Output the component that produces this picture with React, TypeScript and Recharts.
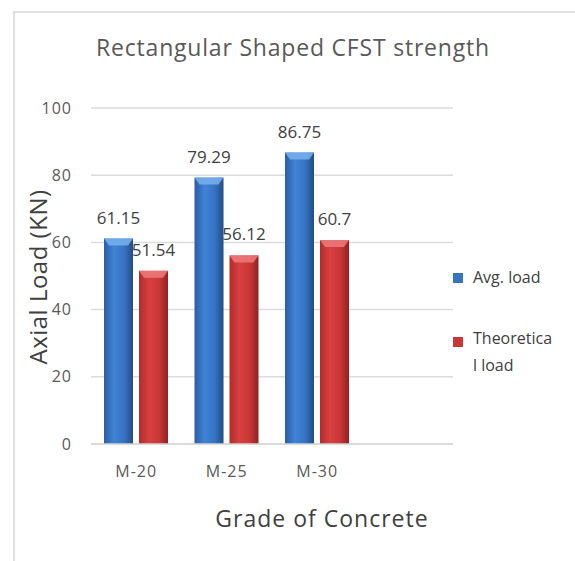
import React from 'react'
import { BarChart, Bar, XAxis, YAxis, CartesianGrid, LabelList } from 'recharts'

const grades = ['M-20', 'M-25', 'M-30', '']
const avgLoad = [61.15, 79.29, 86.75, null]
const theoreticalLoad = [51.54, 56.12, 60.7, null]
const yTicks = [0, 20, 40, 60, 80, 100]

const data = grades.map((g, i) => ({ grade: g, avg: avgLoad[i], theo: theoreticalLoad[i] }))

const FONT = '"Open Sans", "Noto Sans", sans-serif'

const makeShape = (id: string, cap: string) => (props: any) => {
  const { x, y, width, height } = props
  if (!height || height <= 0) return null
  const c = 7
  return (
    <g>
      <rect x={x} y={y} width={width} height={height} fill={`url(#${id})`} />
      <path
        d={`M${x},${y} L${x + width},${y} L${x + width - 5},${y + c} L${x + 5},${y + c} Z`}
        fill={cap}
        opacity={0.85}
      />
    </g>
  )
}

const BlueBar = makeShape('gBlue', '#7ab2ee')
const RedBar = makeShape('gRed', '#ee7b7b')

const fmt = (v: any) => (v == null ? '' : String(v))

export default function App() {
  return (
    <div style={{ position: 'absolute', left: 0, top: 0, width: 575, height: 561, background: '#fff', overflow: 'hidden', fontFamily: FONT }}>
      <div style={{ position: 'absolute', left: 13, top: 11, width: 700, height: 700, borderLeft: '2px solid #e0e0e0', borderTop: '2px solid #e0e0e0' }} />
      <div style={{ position: 'absolute', left: 0, top: 31, width: 586, textAlign: 'center', fontSize: 23, letterSpacing: 0.8, lineHeight: 'normal', color: '#595959', whiteSpace: 'nowrap' }}>
        Rectangular Shaped CFST strength
      </div>
      <div style={{ position: 'absolute', left: 0, top: 0 }}>
        <BarChart
          width={575}
          height={561}
          data={data}
          margin={{ top: 108, right: 122, bottom: 87, left: 0 }}
          barSize={29}
          barGap={6}
        >
          <defs>
            <linearGradient id="gBlue" x1="0" y1="0" x2="1" y2="0">
              <stop offset="0%" stopColor="#2a5ea6" />
              <stop offset="35%" stopColor="#4083d6" />
              <stop offset="70%" stopColor="#3673c2" />
              <stop offset="100%" stopColor="#234c86" />
            </linearGradient>
            <linearGradient id="gRed" x1="0" y1="0" x2="1" y2="0">
              <stop offset="0%" stopColor="#b02c2c" />
              <stop offset="35%" stopColor="#d8403f" />
              <stop offset="70%" stopColor="#c93636" />
              <stop offset="100%" stopColor="#8f2222" />
            </linearGradient>
          </defs>
          <CartesianGrid vertical={false} stroke="#dcdcdc" strokeWidth={1.5} />
          <XAxis
            dataKey="grade"
            axisLine={{ stroke: '#d6d6d6', strokeWidth: 1.5 }}
            tickLine={false}
            tickMargin={16}
            tick={{ fill: '#595959', fontSize: 16, fontFamily: FONT, letterSpacing: 1 }}
            height={30}
            label={{
              content: () => (
                <text x={322} y={527} textAnchor="middle" fontSize={23} letterSpacing={1} fontFamily={FONT} fill="#404040">
                  Grade of Concrete
                </text>
              ),
            }}
          />
          <YAxis
            domain={[0, 100]}
            ticks={yTicks}
            width={91}
            axisLine={false}
            tickLine={false}
            tickMargin={13}
            tick={{ fill: '#595959', fontSize: 16, fontFamily: FONT, letterSpacing: 1 }}
            label={{
              content: () => (
                <text
                  x={37}
                  y={277}
                  transform="rotate(-90 37 277)"
                  textAnchor="middle"
                  dominantBaseline="central"
                  fontSize={24}
                  letterSpacing={0.5}
                  fontFamily={FONT}
                  fill="#404040"
                >
                  Axial Load (KN)
                </text>
              ),
            }}
          />
          <Bar dataKey="avg" isAnimationActive={false} shape={BlueBar}>
            <LabelList dataKey="avg" position="top" offset={15} formatter={fmt} fill="#404040" fontSize={17} fontFamily={FONT} />
          </Bar>
          <Bar dataKey="theo" isAnimationActive={false} shape={RedBar}>
            <LabelList dataKey="theo" position="top" offset={15} formatter={fmt} fill="#404040" fontSize={17} fontFamily={FONT} />
          </Bar>
        </BarChart>
      </div>
      <span style={{ position: 'absolute', left: 453, top: 273, width: 10, height: 10, background: '#3673c2' }} />
      <span style={{ position: 'absolute', left: 473, top: 269, fontSize: 16, lineHeight: '17px', color: '#404040', whiteSpace: 'nowrap' }}>Avg. load</span>
      <span style={{ position: 'absolute', left: 453, top: 337, width: 10, height: 10, background: '#c93636' }} />
      <span style={{ position: 'absolute', left: 473, top: 330, fontSize: 16, lineHeight: '17px', color: '#404040', whiteSpace: 'nowrap' }}>Theoretica</span>
      <span style={{ position: 'absolute', left: 473, top: 357, fontSize: 16, lineHeight: '17px', color: '#404040', whiteSpace: 'nowrap' }}>l load</span>
    </div>
  )
}
